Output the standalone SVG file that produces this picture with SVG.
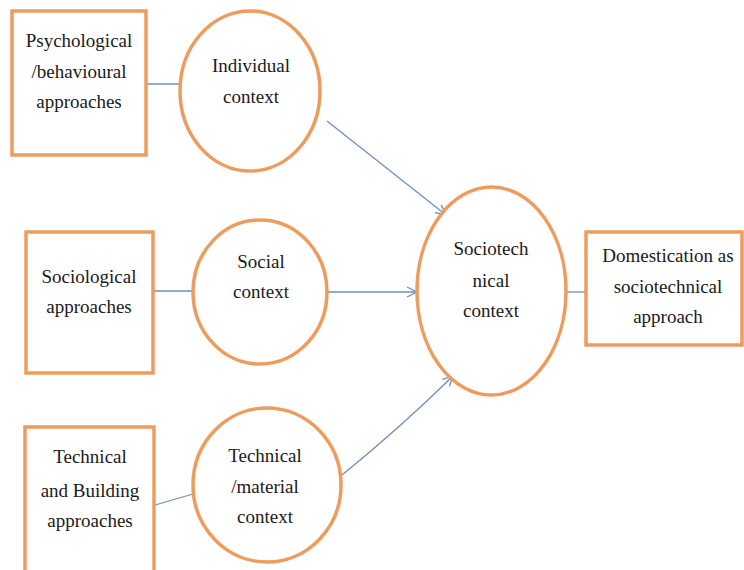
<svg xmlns="http://www.w3.org/2000/svg" width="744" height="570" viewBox="0 0 744 570">
  <defs>
    <style>
      .shape { fill: #ffffff; stroke: #ee9c5e; stroke-width: 3.5; }
      .label { font-size: 19px; fill: #1a1a1a; text-anchor: middle; }
      .link { fill: none; stroke: #6d8fbb; stroke-width: 1.3; }
    </style>
    <marker id="open-arrow" viewBox="0 0 12 12" refX="11" refY="6" markerWidth="12" markerHeight="12" markerUnits="userSpaceOnUse" orient="auto">
      <path d="M1,1 L11,6 L1,11" fill="none" stroke="#6d8fbb" stroke-width="1.3"/>
    </marker>
  </defs>
  <rect width="744" height="570" fill="#ffffff"/>

  <g id="connectors">
    <line class="link" x1="146" y1="84" x2="180" y2="84"/>
    <line class="link" x1="153" y1="291" x2="193" y2="291"/>
    <line class="link" x1="155" y1="505" x2="193" y2="494"/>
    <line class="link" x1="327" y1="121" x2="446" y2="215" marker-end="url(#open-arrow)"/>
    <line class="link" x1="328" y1="292" x2="417" y2="292" marker-end="url(#open-arrow)"/>
    <path class="link" d="M342,475 Q400,428 453,376" marker-end="url(#open-arrow)"/>
    <line class="link" x1="566" y1="292" x2="586" y2="292"/>
  </g>

  <g font-family="Liberation Serif, serif">
  <g id="psychological">
    <rect class="shape" x="12" y="11" width="134" height="144"/>
    <text class="label" x="79" y="47">Psychological</text>
    <text class="label" x="79" y="78">/behavioural</text>
    <text class="label" x="79" y="108">approaches</text>
  </g>

  <g id="individual">
    <ellipse class="shape" cx="250" cy="91" rx="70" ry="80"/>
    <text class="label" x="251" y="72">Individual</text>
    <text class="label" x="251" y="103">context</text>
  </g>

  <g id="sociological">
    <rect class="shape" x="26" y="232" width="127" height="141"/>
    <text class="label" x="89" y="283">Sociological</text>
    <text class="label" x="89" y="313">approaches</text>
  </g>

  <g id="social">
    <ellipse class="shape" cx="260" cy="292" rx="67" ry="72"/>
    <text class="label" x="261" y="268">Social</text>
    <text class="label" x="261" y="298">context</text>
  </g>

  <g id="technical-building">
    <rect class="shape" x="25" y="427" width="129" height="150"/>
    <text class="label" x="90" y="463">Technical</text>
    <text class="label" x="90" y="497">and Building</text>
    <text class="label" x="90" y="527">approaches</text>
  </g>

  <g id="material">
    <ellipse class="shape" cx="267" cy="485" rx="74" ry="77"/>
    <text class="label" x="265" y="462">Technical</text>
    <text class="label" x="265" y="493">/material</text>
    <text class="label" x="265" y="523">context</text>
  </g>

  <g id="sociotechnical">
    <ellipse class="shape" cx="491.5" cy="291" rx="74.5" ry="104"/>
    <text class="label" x="491" y="255">Sociotech</text>
    <text class="label" x="491" y="287">nical</text>
    <text class="label" x="491" y="317">context</text>
  </g>

  <g id="domestication">
    <rect class="shape" x="586" y="232" width="156" height="113"/>
    <text class="label" x="668" y="262">Domestication as</text>
    <text class="label" x="668" y="293">sociotechnical</text>
    <text class="label" x="668" y="323">approach</text>
  </g>
  </g>
</svg>
